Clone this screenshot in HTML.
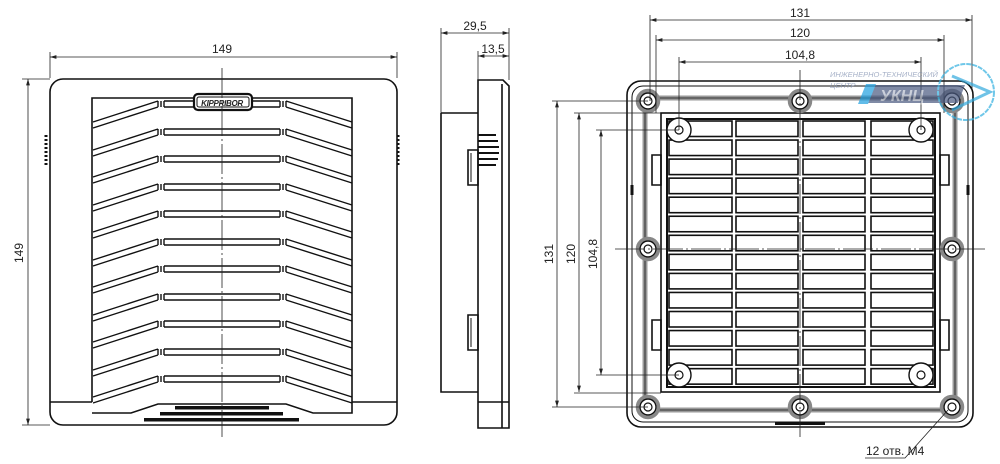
<!DOCTYPE html>
<html><head><meta charset="utf-8"><style>
html,body{margin:0;padding:0;background:#fff;width:1000px;height:464px;overflow:hidden}
svg{display:block}
text{font-family:"Liberation Sans",sans-serif;fill:#222}
</style></head><body>
<svg id="s" width="1000" height="464" viewBox="0 0 1000 464" xmlns="http://www.w3.org/2000/svg">
<defs>
<marker id="a" viewBox="0 0 10 6" refX="10" refY="3" markerWidth="8" markerHeight="5" orient="auto-start-reverse"><path d="M0,0L10,3L0,6z" fill="#222"/></marker>
</defs>
<g fill="none" stroke="#111" stroke-width="1.6" id="g">
<rect x="50" y="79" width="347" height="346" rx="13"/>
<line x1="50" y1="402" x2="92" y2="402"/><line x1="352" y1="402" x2="397" y2="402"/>
<path d="M92,402V98H352V402"/>
<path d="M92,413H131L158,404H286L313,413H352V402"/>
<path d="M46,135v30M398,135v30" stroke-width="3" stroke-dasharray="2,2"/>
<rect x="194" y="94" width="58" height="16" rx="4" stroke-width="2.2" fill="#fff"/>
<rect x="197" y="97" width="52" height="10" rx="2" stroke-width="1"/>
<path d="M441,113H478M441,113V392H478"/>
<path d="M478,80H503L509,86V428H478Z"/>
<path d="M502,84V428M478,402H509"/>
<path d="M468,150h10v35h-10zM468,315h10v35h-10z"/>
<path d="M471,153v29M471,318v29" stroke-width="1"/>
<path d="M478,135h18M478,141h20M478,147h21M478,153h21M478,159h20M478,165h18" stroke-width="2"/>
<rect x="627" y="81" width="346" height="346" rx="14"/>
<rect x="632" y="86" width="336" height="336" rx="11" stroke-width="1"/>
<rect x="645" y="98" width="310" height="312" rx="6" stroke="#999" stroke-width="5"/>
<rect x="645" y="98" width="310" height="312" rx="6" stroke-width="0.8"/>
<rect x="661" y="113" width="279" height="279"/>
<rect x="667" y="119" width="268" height="268" stroke-width="2"/>
<path d="M652,155h9v30h-9zM652,320h9v30h-9zM940,155h9v30h-9zM940,320h9v30h-9z"/>
<path d="M632,185v10M968,185v10" stroke-width="3"/>
<rect x="775" y="422" width="50" height="3" fill="#111" stroke="none"/>
</g>
<g fill="#111" stroke="none">
<rect x="175" y="406" width="94" height="3.5"/>
<rect x="160" y="412" width="123" height="3.5"/>
<rect x="144" y="418" width="155" height="3.5"/>
</g>
<text x="222" y="106" font-size="8" font-weight="bold" font-style="italic" text-anchor="middle" style="letter-spacing:-0.3px">KIPPRIBOR</text>
<g stroke="#222" stroke-width="0.8" fill="none">
<line x1="50" y1="57" x2="397" y2="57" marker-start="url(#a)" marker-end="url(#a)"/>
<line x1="50" y1="52" x2="50" y2="78"/><line x1="397" y1="52" x2="397" y2="78"/>
<line x1="28" y1="79" x2="28" y2="425" marker-start="url(#a)" marker-end="url(#a)"/>
<line x1="22" y1="79" x2="50" y2="79"/><line x1="22" y1="425" x2="50" y2="425"/>
<line x1="222" y1="68" x2="222" y2="437" stroke-dasharray="30,3,2,3"/>
<line x1="441" y1="33" x2="509" y2="33" marker-start="url(#a)" marker-end="url(#a)"/>
<line x1="441" y1="28" x2="441" y2="113"/><line x1="509" y1="28" x2="509" y2="80"/>
<line x1="478" y1="56" x2="509" y2="56" marker-start="url(#a)" marker-end="url(#a)"/>
<line x1="478" y1="51" x2="478" y2="80"/>
<line x1="650" y1="20" x2="972" y2="20" marker-start="url(#a)" marker-end="url(#a)"/>
<line x1="650" y1="15" x2="650" y2="101"/><line x1="972" y1="15" x2="972" y2="90"/>
<line x1="656" y1="40" x2="944" y2="40" marker-start="url(#a)" marker-end="url(#a)"/>
<line x1="656" y1="35" x2="656" y2="113"/><line x1="944" y1="35" x2="944" y2="113"/>
<line x1="679" y1="62" x2="921" y2="62" marker-start="url(#a)" marker-end="url(#a)"/>
<line x1="679" y1="57" x2="679" y2="130"/><line x1="921" y1="57" x2="921" y2="130"/>
<line x1="557" y1="101" x2="557" y2="407" marker-start="url(#a)" marker-end="url(#a)"/>
<line x1="552" y1="101" x2="648" y2="101"/><line x1="552" y1="407" x2="648" y2="407"/>
<line x1="579" y1="113" x2="579" y2="392" marker-start="url(#a)" marker-end="url(#a)"/>
<line x1="574" y1="113" x2="661" y2="113"/><line x1="574" y1="393" x2="661" y2="393"/>
<line x1="601" y1="130" x2="601" y2="375" marker-start="url(#a)" marker-end="url(#a)"/>
<line x1="596" y1="130" x2="679" y2="130"/><line x1="596" y1="375" x2="679" y2="375"/>
<line x1="800" y1="70" x2="800" y2="437" stroke-dasharray="30,3,2,3"/>
<line x1="615" y1="249" x2="985" y2="249" stroke-dasharray="30,3,2,3"/>
<path d="M865,458H905L948,410"/>
</g>
<g font-size="12">
<text x="222" y="53" text-anchor="middle">149</text>
<text transform="translate(23,253) rotate(-90)" text-anchor="middle">149</text>
<text x="475" y="30" text-anchor="middle">29,5</text>
<text x="493" y="53" text-anchor="middle">13,5</text>
<text x="800" y="17" text-anchor="middle">131</text>
<text x="800" y="37" text-anchor="middle">120</text>
<text x="800" y="59" text-anchor="middle">104,8</text>
<text transform="translate(553,254) rotate(-90)" text-anchor="middle">131</text>
<text transform="translate(575,254) rotate(-90)" text-anchor="middle">120</text>
<text transform="translate(597,254) rotate(-90)" text-anchor="middle">104,8</text>
<text x="866" y="455">12 отв. M4</text>
</g>
<g opacity="0.7">
<text x="830" y="77" font-size="7.5" font-style="italic" style="fill:#8090b0">ИНЖЕНЕРНО-ТЕХНИЧЕСКИЙ</text>
<text x="830" y="88" font-size="7.5" font-style="italic" style="fill:#8090b0">ЦЕНТР</text>
<path d="M868,85H965L958,103H862Z" fill="#4a5a80"/>
<path d="M866,84h10l-8,20h-10z" fill="#1fa0e0"/>
<text x="880" y="101" font-size="16" font-style="italic" font-weight="bold" style="fill:#fff;opacity:0.6">УКНЦ</text>
<circle cx="966" cy="92" r="28" fill="none" stroke="#33b0e0" stroke-width="2" stroke-dasharray="5,1"/>
<path d="M952,76L990,92L952,110" fill="none" stroke="#33aadd" stroke-width="3"/>
</g>
<script>
var g=document.getElementById('g'),NS='http://www.w3.org/2000/svg';
function el(t,a){var e=document.createElementNS(NS,t);for(var k in a)e.setAttribute(k,a[k]);g.appendChild(e);return e;}
var ys=[101,129,156,184,211,239,266,294,321,349,376];
ys.forEach(function(y,i){
 var p='M93,'+(y+21)+'L158,'+y+'M93,'+(y+27)+'L158,'+(y+6)+'M286,'+y+'L352,'+(y+21)+'M286,'+(y+6)+'L352,'+(y+27);
 p+='M158,'+y+'v6M161,'+y+'v6M164,'+y+'v6M280,'+y+'v6M283,'+y+'v6M286,'+y+'v6';
 if(i==0){p+='M164,'+y+'H194M164,'+(y+6)+'H194M252,'+y+'H280M252,'+(y+6)+'H280';}
 else{p+='M164,'+y+'H280M164,'+(y+6)+'H280';}
 el('path',{d:p,'stroke-width':1.4});
});
var cx=[[669,732],[736,798],[803,865],[871,933]];
for(var r=0;r<14;r++){var y0=121+r*19.05;
 cx.forEach(function(c){el('rect',{x:c[0],y:y0,width:c[1]-c[0],height:15.5,'stroke-width':1.6});});}
[[648,101],[800,101],[952,101],[648,249],[952,249],[648,407],[800,407],[952,407]].forEach(function(h){
 el('circle',{cx:h[0],cy:h[1],r:10.5,stroke:'#888','stroke-width':3.5,fill:'#fff'});
 el('circle',{cx:h[0],cy:h[1],r:8,'stroke-width':1.4});
 el('circle',{cx:h[0],cy:h[1],r:4,'stroke-width':1.2});});
[[679,130],[921,130],[679,375],[921,375]].forEach(function(h){
 el('circle',{cx:h[0],cy:h[1],r:12,'stroke-width':1.4,fill:'#fff'});
 el('circle',{cx:h[0],cy:h[1],r:4,'stroke-width':1.2});});
</script>
</svg>
</body></html>
